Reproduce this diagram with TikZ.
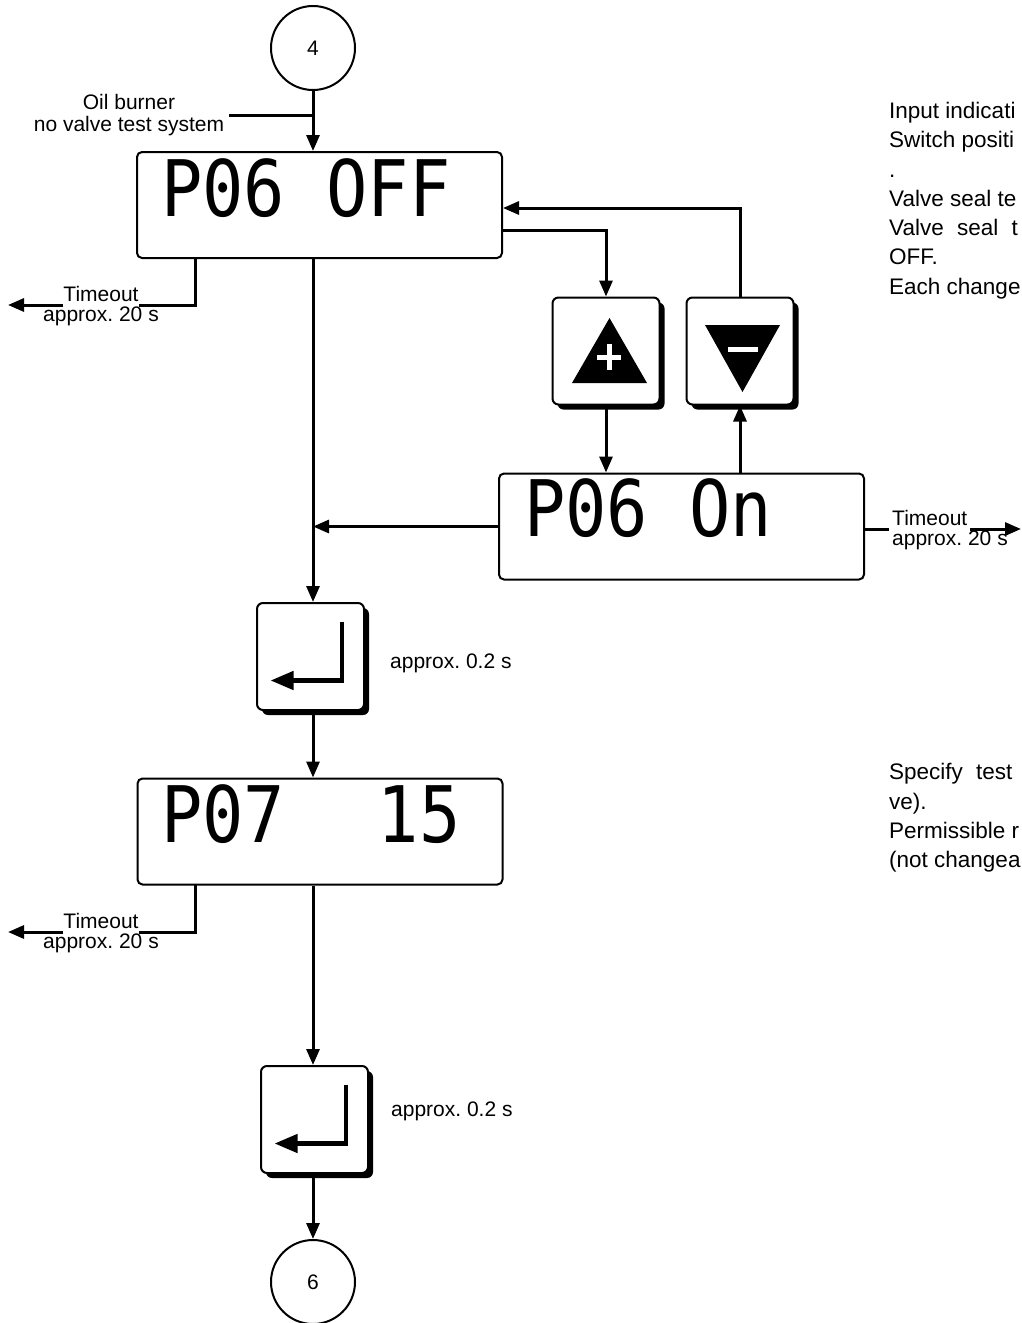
\documentclass[tikz,border=0pt]{standalone}
\usepackage{fontspec}
\setmainfont{Liberation Sans}
\newfontfamily\segfont[FakeStretch=0.88]{DejaVu Sans Mono}
\usetikzlibrary{arrows.meta,shadows,calc}
\frenchspacing

\tikzset{
  flow/.style={line width=3pt},
  arr/.style={flow,-{Triangle[length=16pt,width=13pt]}},
  lcd/.style={draw, line width=2pt, rounded corners=5pt, minimum width=365pt, minimum height=106pt, inner sep=0pt},
  segtext/.style={anchor=north west, inner sep=0pt, font=\segfont\fontsize{78}{78}\selectfont},
  keycap/.style={draw, line width=2pt, rounded corners=6pt, fill=white, minimum size=107pt, inner sep=0pt,
    drop shadow={shadow xshift=5pt, shadow yshift=-5pt, opacity=1, fill=black}},
  conn/.style={draw, circle, line width=2pt, minimum size=84pt, inner sep=0pt, font=\fontsize{21}{21}\selectfont},
  remark/.style={font=\fontsize{21}{22}\selectfont, inner sep=0pt},
  info/.style={font=\fontsize{22.5}{22}\selectfont, inner sep=0pt, anchor=base west},
}

\begin{document}
\begin{tikzpicture}[x=1pt,y=-1pt]
\useasboundingbox (0,0) rectangle (1022,1323);
\clip (0,0) rectangle (1022,1323);

% connector circles
\node[conn] (c4) at (313,48) {4};
\node[conn] (c6) at (313,1282) {6};

% displays
\node[lcd] (p06off) at (319.5,205) {};
\node[segtext] (t06off) at (161,158) {P06 OFF};
\node[lcd] (p06on) at (681.5,526.5) {};
\node[segtext] (t06on) at (524,478) {P06 On};
\node[lcd] (p07) at (320,831.5) {};
\node[segtext] (t07) at (161,784) {P07\ \ \hspace{10pt}15};

% keys
\node[keycap] (plus) at (606,351) {};
\node[keycap] (minus) at (740,351) {};
\node[keycap] (enter1) at (310.5,656.5) {};
\node[keycap] (enter2) at (314.5,1119.5) {};

\begin{scope}[shift={(plus.center)}]
  \fill (-34,32) -- (41,32) -- (3.5,-33) -- cycle;
  \draw[white, line width=5pt] (-9,6) -- (15,6) (3,-7) -- (3,19);
\end{scope}
\begin{scope}[shift={(minus.center)}]
  \fill (-35,-26) -- (40,-26) -- (2.5,41) -- cycle;
  \draw[white, line width=5pt] (-12,-2) -- (18,-2);
\end{scope}
\foreach \k in {enter1,enter2}{
  \begin{scope}[shift={(\k.center)}]
    \draw[line width=4.5pt, -{Triangle[length=23pt,width=18pt]}] (31.5,-35) -- (31.5,24) -- (-40,24);
  \end{scope}
}

% notes
\node[remark, align=center, inner xsep=5pt] (oil) at (129,115) {Oil burner\\no valve test system};
\node[remark, anchor=south, inner ysep=3pt] (tmo1) at (101,305) {Timeout};
\node[remark, anchor=north, inner ysep=2pt] (apx1) at (tmo1.south) {approx. 20 s};
\node[remark, anchor=south, inner ysep=3pt] (tmo2) at (101,932) {Timeout};
\node[remark, anchor=north, inner ysep=2pt] (apx2) at (tmo2.south) {approx. 20 s};
\node[remark, anchor=south west, inner xsep=3pt, inner ysep=3pt] (tmo3) at (889,529) {Timeout};
\node[remark, anchor=north west, inner xsep=3pt, inner ysep=2pt] (apx3) at (tmo3.south west) {approx. 20 s};
\node[remark, anchor=west] (dly1) at (390,663) {approx. 0.2 s};
\node[remark, anchor=west] (dly2) at (391,1111) {approx. 0.2 s};

\coordinate (tap1) at (195,258);
\coordinate (out1) at (8,305);
\coordinate (tap2) at (195,885);
\coordinate (out2) at (8,932);
\coordinate (out3) at (1021,529);

% main flow
\draw[arr] (c4.south) -- (p06off.north -| c4);
\draw[flow] (oil.east) -- (oil.east -| c4);
\draw[flow] (tap1) |- (tmo1.south east);
\draw[arr] (tmo1.south west) -- (out1);
\draw[arr] (p06off.south -| c4) -- (enter1.north -| c4);
\draw[arr] (p06off.east |- 0,230) -| (plus.north);
\draw[arr] (plus.south) -- (plus.south |- p06on.north);
\draw[arr] (minus.south |- p06on.north) -- (minus.south);
\draw[arr] (minus.north) |- (p06off.east |- 0,208);
\draw[arr] (p06on.west) -- (p06on.west -| c4);
\draw[flow] (p06on.east |- tmo3.south west) -- (tmo3.south west);
\draw[arr] (tmo3.south east) -- (out3);
\draw[arr] (enter1.south -| c4) -- (p07.north -| c4);
\draw[flow] (tap2) |- (tmo2.south east);
\draw[arr] (tmo2.south west) -- (out2);
\draw[arr] (p07.south -| c4) -- (enter2.north -| c4);
\draw[arr] (enter2.south -| c4) -- (c6.north);

% side text
\foreach \yy/\txt [count=\i] in {118/Input indicati, 147/Switch positi, 177/., 206/Valve seal te,
    235/Valve\hspace{7pt} seal\hspace{7pt} t, 264/OFF., 294/Each change}
  \node[info] (infoa\i) at (889,\yy) {\txt};
\foreach \yy/\txt [count=\i] in {779/Specify\hspace{7pt} test, 809/ve)., 838/Permissible r, 867/(not changea}
  \node[info] (infob\i) at (889,\yy) {\txt};
\end{tikzpicture}
\end{document}
